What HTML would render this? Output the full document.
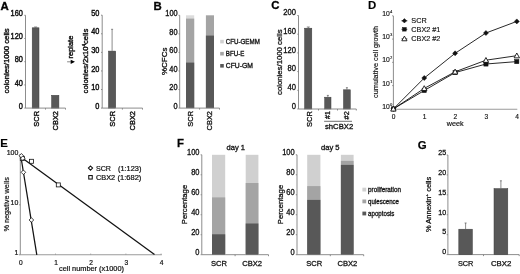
<!DOCTYPE html>
<html><head><meta charset="utf-8"><style>
html,body{margin:0;padding:0;background:#fff;overflow:hidden;}
svg{display:block;will-change:transform;filter:blur(0.4px);font-family:"Liberation Sans", sans-serif;}
text{stroke:#111;stroke-width:0.38px;}
.pA text{stroke-width:0.38px;} .pB text{stroke-width:0.3px;} .pC text{stroke-width:0.3px;} .pD text{stroke-width:0.15px;} .pE text{stroke-width:0.2px;} .pF text{stroke-width:0.28px;} .pG text{stroke-width:0.25px;}
</style></head><body>
<svg width="520" height="274" viewBox="0 0 520 274">
<rect width="520" height="274" fill="#fff"/>
<g class="pA">
<text x="0.60" y="9.60" font-size="11.4" font-weight="bold" fill="#000">A</text>
<line x1="25.50" y1="15.30" x2="25.50" y2="108.10" stroke="#808080" stroke-width="0.9"/>
<line x1="24.30" y1="108.10" x2="25.50" y2="108.10" stroke="#808080" stroke-width="0.9"/>
<text transform="translate(22.90,108.70) scale(1,1.12)" x="0" y="0" font-size="7.4" text-anchor="end" fill="#111">0</text>
<line x1="24.30" y1="84.90" x2="25.50" y2="84.90" stroke="#808080" stroke-width="0.9"/>
<text transform="translate(22.90,85.50) scale(1,1.12)" x="0" y="0" font-size="7.4" text-anchor="end" fill="#111">40</text>
<line x1="24.30" y1="61.70" x2="25.50" y2="61.70" stroke="#808080" stroke-width="0.9"/>
<text transform="translate(22.90,62.30) scale(1,1.12)" x="0" y="0" font-size="7.4" text-anchor="end" fill="#111">80</text>
<line x1="24.30" y1="38.50" x2="25.50" y2="38.50" stroke="#808080" stroke-width="0.9"/>
<text transform="translate(22.90,39.10) scale(1,1.12)" x="0" y="0" font-size="7.4" text-anchor="end" fill="#111">120</text>
<line x1="24.30" y1="15.30" x2="25.50" y2="15.30" stroke="#808080" stroke-width="0.9"/>
<text transform="translate(22.90,15.90) scale(1,1.12)" x="0" y="0" font-size="7.4" text-anchor="end" fill="#111">160</text>
<rect x="32.20" y="27.80" width="6.80" height="80.30" fill="#585858" stroke="#3c3c3c" stroke-width="0.5"/>
<line x1="35.60" y1="27.60" x2="35.60" y2="27.00" stroke="#5a5a5a" stroke-width="0.7"/>
<line x1="34.10" y1="27.00" x2="37.10" y2="27.00" stroke="#5a5a5a" stroke-width="0.7"/>
<rect x="51.60" y="95.30" width="7.30" height="12.80" fill="#585858" stroke="#3c3c3c" stroke-width="0.5"/>
<line x1="25.50" y1="108.10" x2="65.50" y2="108.10" stroke="#808080" stroke-width="0.9"/>
<line x1="45.50" y1="108.10" x2="45.50" y2="109.60" stroke="#808080" stroke-width="0.9"/>
<line x1="65.50" y1="108.10" x2="65.50" y2="109.60" stroke="#808080" stroke-width="0.9"/>
<text transform="translate(39.00,126.70) rotate(-90)" x="0" y="0" font-size="7.4" fill="#111" textLength="15.70" lengthAdjust="spacingAndGlyphs">SCR</text>
<text transform="translate(58.10,130.40) rotate(-90)" x="0" y="0" font-size="7.4" fill="#111" textLength="19.40" lengthAdjust="spacingAndGlyphs">CBX2</text>
<text transform="translate(8.70,93.50) rotate(-90)" x="0" y="0" font-size="7.8" fill="#111" textLength="65.20" lengthAdjust="spacingAndGlyphs">colonies/1000 cells</text>
<line x1="102.20" y1="15.20" x2="102.20" y2="108.10" stroke="#808080" stroke-width="0.9"/>
<line x1="101.00" y1="108.10" x2="102.20" y2="108.10" stroke="#808080" stroke-width="0.9"/>
<text transform="translate(99.40,108.70) scale(1,1.12)" x="0" y="0" font-size="7.4" text-anchor="end" fill="#111">0</text>
<line x1="101.00" y1="89.52" x2="102.20" y2="89.52" stroke="#808080" stroke-width="0.9"/>
<text transform="translate(99.40,90.12) scale(1,1.12)" x="0" y="0" font-size="7.4" text-anchor="end" fill="#111">10</text>
<line x1="101.00" y1="70.94" x2="102.20" y2="70.94" stroke="#808080" stroke-width="0.9"/>
<text transform="translate(99.40,71.54) scale(1,1.12)" x="0" y="0" font-size="7.4" text-anchor="end" fill="#111">20</text>
<line x1="101.00" y1="52.36" x2="102.20" y2="52.36" stroke="#808080" stroke-width="0.9"/>
<text transform="translate(99.40,52.96) scale(1,1.12)" x="0" y="0" font-size="7.4" text-anchor="end" fill="#111">30</text>
<line x1="101.00" y1="33.78" x2="102.20" y2="33.78" stroke="#808080" stroke-width="0.9"/>
<text transform="translate(99.40,34.38) scale(1,1.12)" x="0" y="0" font-size="7.4" text-anchor="end" fill="#111">40</text>
<line x1="101.00" y1="15.20" x2="102.20" y2="15.20" stroke="#808080" stroke-width="0.9"/>
<text transform="translate(99.40,15.80) scale(1,1.12)" x="0" y="0" font-size="7.4" text-anchor="end" fill="#111">50</text>
<rect x="108.50" y="51.10" width="7.20" height="57.00" fill="#585858" stroke="#3c3c3c" stroke-width="0.5"/>
<line x1="112.10" y1="50.90" x2="112.10" y2="29.30" stroke="#5a5a5a" stroke-width="0.7"/>
<line x1="111.10" y1="29.30" x2="113.10" y2="29.30" stroke="#5a5a5a" stroke-width="0.7"/>
<line x1="102.20" y1="108.10" x2="142.50" y2="108.10" stroke="#808080" stroke-width="0.9"/>
<line x1="122.40" y1="108.10" x2="122.40" y2="109.60" stroke="#808080" stroke-width="0.9"/>
<line x1="142.50" y1="108.10" x2="142.50" y2="109.60" stroke="#808080" stroke-width="0.9"/>
<text transform="translate(114.80,126.70) rotate(-90)" x="0" y="0" font-size="7.4" fill="#111" textLength="15.70" lengthAdjust="spacingAndGlyphs">SCR</text>
<text transform="translate(134.80,130.40) rotate(-90)" x="0" y="0" font-size="7.4" fill="#111" textLength="19.40" lengthAdjust="spacingAndGlyphs">CBX2</text>
<text transform="translate(88.4,93.4) rotate(-90)" x="0" y="0" font-size="7.8" fill="#111" textLength="64.8" lengthAdjust="spacingAndGlyphs">colonies/2x10<tspan font-size="4.6" dy="-2.8">4</tspan><tspan dy="2.8">cells</tspan></text>
<text transform="translate(73.30,58.50) rotate(-90)" x="0" y="0" font-size="7.0" fill="#111" textLength="22.80" lengthAdjust="spacingAndGlyphs">replate</text>
<line x1="67.10" y1="61.80" x2="71.20" y2="61.80" stroke="#555" stroke-width="0.7"/>
<path d="M70.7 59.8 L75 61.85 L70.7 64 Z" fill="#000"/>
</g>
<g class="pB">
<text x="153.60" y="9.60" font-size="11.4" font-weight="bold" fill="#000">B</text>
<line x1="179.70" y1="15.30" x2="179.70" y2="108.10" stroke="#808080" stroke-width="0.9"/>
<line x1="178.50" y1="108.10" x2="179.70" y2="108.10" stroke="#808080" stroke-width="0.9"/>
<text transform="translate(177.60,108.80) scale(1,1.12)" x="0" y="0" font-size="7.4" text-anchor="end" fill="#111">0</text>
<line x1="178.50" y1="89.54" x2="179.70" y2="89.54" stroke="#808080" stroke-width="0.9"/>
<text transform="translate(177.60,90.24) scale(1,1.12)" x="0" y="0" font-size="7.4" text-anchor="end" fill="#111">20</text>
<line x1="178.50" y1="70.98" x2="179.70" y2="70.98" stroke="#808080" stroke-width="0.9"/>
<text transform="translate(177.60,71.68) scale(1,1.12)" x="0" y="0" font-size="7.4" text-anchor="end" fill="#111">40</text>
<line x1="178.50" y1="52.42" x2="179.70" y2="52.42" stroke="#808080" stroke-width="0.9"/>
<text transform="translate(177.60,53.12) scale(1,1.12)" x="0" y="0" font-size="7.4" text-anchor="end" fill="#111">60</text>
<line x1="178.50" y1="33.86" x2="179.70" y2="33.86" stroke="#808080" stroke-width="0.9"/>
<text transform="translate(177.60,34.56) scale(1,1.12)" x="0" y="0" font-size="7.4" text-anchor="end" fill="#111">80</text>
<line x1="178.50" y1="15.30" x2="179.70" y2="15.30" stroke="#808080" stroke-width="0.9"/>
<text transform="translate(177.60,16.00) scale(1,1.12)" x="0" y="0" font-size="7.4" text-anchor="end" fill="#111">100</text>
<rect x="186.00" y="15.30" width="8.20" height="92.80" fill="#dcdcdc"/>
<rect x="186.00" y="18.60" width="8.20" height="89.50" fill="#a4a4a4"/>
<rect x="186.00" y="62.60" width="8.20" height="45.50" fill="#585858"/>
<rect x="205.90" y="15.30" width="8.10" height="92.80" fill="#a4a4a4"/>
<rect x="205.90" y="35.60" width="8.10" height="72.50" fill="#585858"/>
<line x1="179.70" y1="108.10" x2="219.50" y2="108.10" stroke="#808080" stroke-width="0.9"/>
<line x1="199.60" y1="108.10" x2="199.60" y2="109.60" stroke="#808080" stroke-width="0.9"/>
<line x1="219.50" y1="108.10" x2="219.50" y2="109.60" stroke="#808080" stroke-width="0.9"/>
<text transform="translate(192.70,126.70) rotate(-90)" x="0" y="0" font-size="7.4" fill="#111" textLength="15.70" lengthAdjust="spacingAndGlyphs">SCR</text>
<text transform="translate(212.00,130.40) rotate(-90)" x="0" y="0" font-size="7.4" fill="#111" textLength="19.40" lengthAdjust="spacingAndGlyphs">CBX2</text>
<text transform="translate(166.60,75.00) rotate(-90)" x="0" y="0" font-size="7.6" fill="#111" textLength="27.40" lengthAdjust="spacingAndGlyphs">%CFCs</text>
<rect x="220.20" y="39.80" width="3.60" height="3.60" fill="#d0d0d0"/>
<text x="225.80" y="43.95" font-size="6.4" font-weight="normal" fill="#111" textLength="34.00" lengthAdjust="spacingAndGlyphs">CFU-GEMM</text>
<rect x="220.20" y="51.90" width="3.60" height="3.60" fill="#a4a4a4"/>
<text x="225.80" y="56.05" font-size="6.4" font-weight="normal" fill="#111" textLength="18.60" lengthAdjust="spacingAndGlyphs">BFU-E</text>
<rect x="220.20" y="64.00" width="3.60" height="3.60" fill="#585858"/>
<text x="225.80" y="68.15" font-size="6.4" font-weight="normal" fill="#111" textLength="27.20" lengthAdjust="spacingAndGlyphs">CFU-GM</text>
</g>
<g class="pC">
<text x="271.30" y="9.40" font-size="11.4" font-weight="bold" fill="#000">C</text>
<line x1="298.50" y1="15.50" x2="298.50" y2="109.00" stroke="#808080" stroke-width="0.9"/>
<line x1="297.30" y1="109.00" x2="298.50" y2="109.00" stroke="#808080" stroke-width="0.9"/>
<text transform="translate(296.00,108.70) scale(1,1.12)" x="0" y="0" font-size="7.6" text-anchor="end" fill="#111">0</text>
<line x1="297.30" y1="90.30" x2="298.50" y2="90.30" stroke="#808080" stroke-width="0.9"/>
<text transform="translate(296.00,90.00) scale(1,1.12)" x="0" y="0" font-size="7.6" text-anchor="end" fill="#111">40</text>
<line x1="297.30" y1="71.60" x2="298.50" y2="71.60" stroke="#808080" stroke-width="0.9"/>
<text transform="translate(296.00,71.30) scale(1,1.12)" x="0" y="0" font-size="7.6" text-anchor="end" fill="#111">80</text>
<line x1="297.30" y1="52.90" x2="298.50" y2="52.90" stroke="#808080" stroke-width="0.9"/>
<text transform="translate(296.00,52.60) scale(1,1.12)" x="0" y="0" font-size="7.6" text-anchor="end" fill="#111">120</text>
<line x1="297.30" y1="34.20" x2="298.50" y2="34.20" stroke="#808080" stroke-width="0.9"/>
<text transform="translate(296.00,33.90) scale(1,1.12)" x="0" y="0" font-size="7.6" text-anchor="end" fill="#111">160</text>
<line x1="297.30" y1="15.50" x2="298.50" y2="15.50" stroke="#808080" stroke-width="0.9"/>
<text transform="translate(296.00,15.20) scale(1,1.12)" x="0" y="0" font-size="7.6" text-anchor="end" fill="#111">200</text>
<rect x="304.60" y="28.20" width="7.20" height="80.80" fill="#585858" stroke="#3c3c3c" stroke-width="0.5"/>
<line x1="308.30" y1="28.00" x2="308.30" y2="27.00" stroke="#5a5a5a" stroke-width="0.7"/>
<line x1="306.80" y1="27.00" x2="309.80" y2="27.00" stroke="#5a5a5a" stroke-width="0.7"/>
<rect x="324.70" y="97.20" width="6.30" height="11.80" fill="#585858" stroke="#3c3c3c" stroke-width="0.5"/>
<line x1="327.85" y1="97.00" x2="327.85" y2="95.40" stroke="#5a5a5a" stroke-width="0.7"/>
<line x1="326.85" y1="95.40" x2="328.85" y2="95.40" stroke="#5a5a5a" stroke-width="0.7"/>
<rect x="343.50" y="89.80" width="6.80" height="19.20" fill="#585858" stroke="#3c3c3c" stroke-width="0.5"/>
<line x1="346.90" y1="89.60" x2="346.90" y2="87.70" stroke="#5a5a5a" stroke-width="0.7"/>
<line x1="345.90" y1="87.70" x2="347.90" y2="87.70" stroke="#5a5a5a" stroke-width="0.7"/>
<line x1="298.50" y1="109.00" x2="356.30" y2="109.00" stroke="#808080" stroke-width="0.9"/>
<line x1="318.50" y1="109.00" x2="318.50" y2="110.50" stroke="#808080" stroke-width="0.9"/>
<line x1="337.50" y1="109.00" x2="337.50" y2="110.50" stroke="#808080" stroke-width="0.9"/>
<line x1="356.30" y1="109.00" x2="356.30" y2="110.50" stroke="#808080" stroke-width="0.9"/>
<text transform="translate(311.80,126.90) rotate(-90)" x="0" y="0" font-size="7.4" fill="#111" textLength="15.70" lengthAdjust="spacingAndGlyphs">SCR</text>
<text transform="translate(330.40,119.00) rotate(-90)" x="0" y="0" font-size="7.6" fill="#111" textLength="7.80" lengthAdjust="spacingAndGlyphs">#1</text>
<text transform="translate(349.40,119.40) rotate(-90)" x="0" y="0" font-size="7.6" fill="#111" textLength="8.20" lengthAdjust="spacingAndGlyphs">#2</text>
<line x1="324.10" y1="121.30" x2="352.00" y2="121.30" stroke="#333" stroke-width="0.7"/>
<text x="325.00" y="129.20" font-size="7.2" font-weight="normal" fill="#111" textLength="28.20" lengthAdjust="spacingAndGlyphs">shCBX2</text>
<text transform="translate(281.70,95.00) rotate(-90)" x="0" y="0" font-size="7.8" fill="#111" textLength="65.60" lengthAdjust="spacingAndGlyphs">colonies/1000 cells</text>
</g>
<g class="pD">
<text x="368.00" y="9.30" font-size="11.4" font-weight="bold" fill="#000">D</text>
<line x1="393.40" y1="16.00" x2="393.40" y2="108.90" stroke="#808080" stroke-width="0.9"/>
<line x1="392.20" y1="108.90" x2="393.40" y2="108.90" stroke="#808080" stroke-width="0.9"/>
<text x="389.90" y="109.00" font-size="6.8" text-anchor="end" fill="#111">10</text>
<text x="390.30" y="106.00" font-size="3.6" fill="#111">0</text>
<line x1="392.20" y1="85.62" x2="393.40" y2="85.62" stroke="#808080" stroke-width="0.9"/>
<text x="389.90" y="85.72" font-size="6.8" text-anchor="end" fill="#111">10</text>
<text x="390.30" y="82.72" font-size="3.6" fill="#111">1</text>
<line x1="392.20" y1="62.35" x2="393.40" y2="62.35" stroke="#808080" stroke-width="0.9"/>
<text x="389.90" y="62.45" font-size="6.8" text-anchor="end" fill="#111">10</text>
<text x="390.30" y="59.45" font-size="3.6" fill="#111">2</text>
<line x1="392.20" y1="39.08" x2="393.40" y2="39.08" stroke="#808080" stroke-width="0.9"/>
<text x="389.90" y="39.18" font-size="6.8" text-anchor="end" fill="#111">10</text>
<text x="390.30" y="36.18" font-size="3.6" fill="#111">3</text>
<line x1="392.20" y1="15.80" x2="393.40" y2="15.80" stroke="#808080" stroke-width="0.9"/>
<text x="389.90" y="15.90" font-size="6.8" text-anchor="end" fill="#111">10</text>
<text x="390.30" y="12.90" font-size="3.6" fill="#111">4</text>
<line x1="393.40" y1="109.20" x2="517.30" y2="109.20" stroke="#9a9a9a" stroke-width="1.1"/>
<text x="393.70" y="118.80" font-size="6.6" text-anchor="middle" fill="#111">0</text>
<text x="424.55" y="118.80" font-size="6.6" text-anchor="middle" fill="#111">1</text>
<text x="455.40" y="118.80" font-size="6.6" text-anchor="middle" fill="#111">2</text>
<text x="486.25" y="118.80" font-size="6.6" text-anchor="middle" fill="#111">3</text>
<text x="517.10" y="118.80" font-size="6.6" text-anchor="middle" fill="#111">4</text>
<text x="446.80" y="125.80" font-size="6.4" font-weight="normal" fill="#111" textLength="16.70" lengthAdjust="spacingAndGlyphs">week</text>
<text transform="translate(378.40,97.90) rotate(-90)" x="0" y="0" font-size="7.0" fill="#111" textLength="71.90" lengthAdjust="spacingAndGlyphs">cumulative cell growth</text>
<polyline points="393.40,108.90 424.25,78.00 455.10,53.30 485.95,33.00 516.80,21.40" fill="none" stroke="#111" stroke-width="0.9"/>
<polyline points="393.40,108.90 424.25,90.50 455.10,72.60 485.95,64.00 516.80,61.60" fill="none" stroke="#111" stroke-width="0.9"/>
<polyline points="393.40,108.90 424.25,88.40 455.10,71.80 485.95,60.20 516.80,55.70" fill="none" stroke="#111" stroke-width="0.9"/>
<path d="M393.40 106.40 L395.90 108.90 L393.40 111.40 L390.90 108.90 Z" fill="#111" stroke="#111" stroke-width="0.5"/>
<path d="M424.25 75.50 L426.75 78.00 L424.25 80.50 L421.75 78.00 Z" fill="#111" stroke="#111" stroke-width="0.5"/>
<path d="M455.10 50.80 L457.60 53.30 L455.10 55.80 L452.60 53.30 Z" fill="#111" stroke="#111" stroke-width="0.5"/>
<path d="M485.95 30.50 L488.45 33.00 L485.95 35.50 L483.45 33.00 Z" fill="#111" stroke="#111" stroke-width="0.5"/>
<path d="M516.80 18.90 L519.30 21.40 L516.80 23.90 L514.30 21.40 Z" fill="#111" stroke="#111" stroke-width="0.5"/>
<rect x="391.30" y="106.80" width="4.20" height="4.20" fill="#111" stroke="#111" stroke-width="0.5"/>
<rect x="422.15" y="88.40" width="4.20" height="4.20" fill="#111" stroke="#111" stroke-width="0.5"/>
<rect x="453.00" y="70.50" width="4.20" height="4.20" fill="#111" stroke="#111" stroke-width="0.5"/>
<rect x="483.85" y="61.90" width="4.20" height="4.20" fill="#111" stroke="#111" stroke-width="0.5"/>
<rect x="514.70" y="59.50" width="4.20" height="4.20" fill="#111" stroke="#111" stroke-width="0.5"/>
<path d="M393.40 106.20 L396.10 111.06 L390.70 111.06 Z" fill="#fff" stroke="#111" stroke-width="0.9"/>
<path d="M424.25 85.70 L426.95 90.56 L421.55 90.56 Z" fill="#fff" stroke="#111" stroke-width="0.9"/>
<path d="M455.10 69.10 L457.80 73.96 L452.40 73.96 Z" fill="#fff" stroke="#111" stroke-width="0.9"/>
<path d="M485.95 57.50 L488.65 62.36 L483.25 62.36 Z" fill="#fff" stroke="#111" stroke-width="0.9"/>
<path d="M516.80 53.00 L519.50 57.86 L514.10 57.86 Z" fill="#fff" stroke="#111" stroke-width="0.9"/>
<line x1="401.50" y1="20.80" x2="407.30" y2="20.80" stroke="#111" stroke-width="0.8"/>
<path d="M404.40 18.60 L406.60 20.80 L404.40 23.00 L402.20 20.80 Z" fill="#111" stroke="#111" stroke-width="0.5"/>
<line x1="401.50" y1="29.30" x2="407.30" y2="29.30" stroke="#111" stroke-width="0.8"/>
<rect x="402.60" y="27.50" width="3.60" height="3.60" fill="#111" stroke="#111" stroke-width="0.5"/>
<line x1="401.50" y1="38.90" x2="407.30" y2="38.90" stroke="#111" stroke-width="0.8"/>
<path d="M404.40 36.10 L407.00 40.78 L401.80 40.78 Z" fill="#fff" stroke="#111" stroke-width="0.9"/>
<text x="411.30" y="23.10" font-size="7.2" font-weight="normal" fill="#111" textLength="15.40" lengthAdjust="spacingAndGlyphs">SCR</text>
<text x="411.30" y="31.60" font-size="7.2" font-weight="normal" fill="#111" textLength="29.10" lengthAdjust="spacingAndGlyphs">CBX2 #1</text>
<text x="411.30" y="41.20" font-size="7.2" font-weight="normal" fill="#111" textLength="29.10" lengthAdjust="spacingAndGlyphs">CBX2 #2</text>
</g>
<g class="pE">
<text x="0.30" y="146.60" font-size="11.4" font-weight="bold" fill="#000">E</text>
<line x1="20.30" y1="155.00" x2="20.30" y2="254.80" stroke="#808080" stroke-width="0.9"/>
<line x1="19.10" y1="254.80" x2="20.30" y2="254.80" stroke="#808080" stroke-width="0.9"/>
<text transform="translate(18.30,254.70) scale(1,1.12)" x="0" y="0" font-size="7.0" text-anchor="end" fill="#111">1</text>
<line x1="19.10" y1="204.80" x2="20.30" y2="204.80" stroke="#808080" stroke-width="0.9"/>
<text transform="translate(18.30,204.70) scale(1,1.12)" x="0" y="0" font-size="7.0" text-anchor="end" fill="#111">10</text>
<line x1="19.10" y1="154.80" x2="20.30" y2="154.80" stroke="#808080" stroke-width="0.9"/>
<text transform="translate(18.30,154.70) scale(1,1.12)" x="0" y="0" font-size="7.0" text-anchor="end" fill="#111">100</text>
<line x1="20.30" y1="254.80" x2="161.80" y2="254.80" stroke="#9a9a9a" stroke-width="1.1"/>
<line x1="20.30" y1="254.80" x2="20.30" y2="253.60" stroke="#9a9a9a" stroke-width="0.9"/>
<text x="20.80" y="264.70" font-size="6.6" text-anchor="middle" fill="#111">0</text>
<line x1="55.50" y1="254.80" x2="55.50" y2="253.60" stroke="#9a9a9a" stroke-width="0.9"/>
<text x="56.00" y="264.70" font-size="6.6" text-anchor="middle" fill="#111">1</text>
<line x1="90.70" y1="254.80" x2="90.70" y2="253.60" stroke="#9a9a9a" stroke-width="0.9"/>
<text x="91.20" y="264.70" font-size="6.6" text-anchor="middle" fill="#111">2</text>
<line x1="125.90" y1="254.80" x2="125.90" y2="253.60" stroke="#9a9a9a" stroke-width="0.9"/>
<text x="126.40" y="264.70" font-size="6.6" text-anchor="middle" fill="#111">3</text>
<line x1="161.10" y1="254.80" x2="161.10" y2="253.60" stroke="#9a9a9a" stroke-width="0.9"/>
<text x="161.60" y="264.70" font-size="6.6" text-anchor="middle" fill="#111">4</text>
<text x="59.00" y="270.60" font-size="6.8" font-weight="normal" fill="#111" textLength="65.00" lengthAdjust="spacingAndGlyphs">cell number (x1000)</text>
<text transform="translate(8.60,231.60) rotate(-90)" x="0" y="0" font-size="7.0" fill="#111" textLength="54.40" lengthAdjust="spacingAndGlyphs">% negative wells</text>
<line x1="20.8" y1="156" x2="36.8" y2="254.8" stroke="#111" stroke-width="1.25"/>
<line x1="21.5" y1="157.5" x2="154.5" y2="254.5" stroke="#111" stroke-width="1.25"/>
<rect x="20.30" y="156.50" width="4.00" height="4.00" fill="#fff" stroke="#111" stroke-width="0.8"/>
<rect x="29.50" y="159.30" width="4.00" height="4.00" fill="#fff" stroke="#111" stroke-width="0.8"/>
<rect x="56.30" y="182.90" width="4.00" height="4.00" fill="#fff" stroke="#111" stroke-width="0.8"/>
<path d="M21.40 153.50 L23.70 155.80 L21.40 158.10 L19.10 155.80 Z" fill="#fff" stroke="#111" stroke-width="0.8"/>
<path d="M22.80 155.90 L25.10 158.20 L22.80 160.50 L20.50 158.20 Z" fill="#fff" stroke="#111" stroke-width="0.8"/>
<path d="M23.40 170.00 L25.70 172.30 L23.40 174.60 L21.10 172.30 Z" fill="#fff" stroke="#111" stroke-width="0.8"/>
<path d="M31.40 217.70 L33.70 220.00 L31.40 222.30 L29.10 220.00 Z" fill="#fff" stroke="#111" stroke-width="0.8"/>
<path d="M90.50 166.00 L92.60 168.10 L90.50 170.20 L88.40 168.10 Z" fill="#fff" stroke="#111" stroke-width="1.05"/>
<rect x="88.75" y="175.55" width="3.50" height="3.50" fill="#fff" stroke="#111" stroke-width="1.05"/>
<text x="96.00" y="170.50" font-size="6.6" font-weight="normal" fill="#111" textLength="15.00" lengthAdjust="spacingAndGlyphs">SCR</text>
<text x="118.00" y="170.50" font-size="6.6" font-weight="normal" fill="#111" textLength="23.40" lengthAdjust="spacingAndGlyphs">(1:123)</text>
<text x="96.00" y="180.00" font-size="6.6" font-weight="normal" fill="#111" textLength="19.20" lengthAdjust="spacingAndGlyphs">CBX2</text>
<text x="117.50" y="180.00" font-size="6.6" font-weight="normal" fill="#111" textLength="23.90" lengthAdjust="spacingAndGlyphs">(1:682)</text>
</g>
<g class="pF">
<text x="176.90" y="147.00" font-size="11.4" font-weight="bold" fill="#000">F</text>
<line x1="201.80" y1="154.80" x2="201.80" y2="254.70" stroke="#808080" stroke-width="0.9"/>
<line x1="200.60" y1="254.70" x2="201.80" y2="254.70" stroke="#808080" stroke-width="0.9"/>
<text transform="translate(199.50,255.00) scale(1,1.12)" x="0" y="0" font-size="7.5" text-anchor="end" fill="#111">0</text>
<line x1="200.60" y1="234.72" x2="201.80" y2="234.72" stroke="#808080" stroke-width="0.9"/>
<text transform="translate(199.50,235.02) scale(1,1.12)" x="0" y="0" font-size="7.5" text-anchor="end" fill="#111">20</text>
<line x1="200.60" y1="214.74" x2="201.80" y2="214.74" stroke="#808080" stroke-width="0.9"/>
<text transform="translate(199.50,215.04) scale(1,1.12)" x="0" y="0" font-size="7.5" text-anchor="end" fill="#111">40</text>
<line x1="200.60" y1="194.76" x2="201.80" y2="194.76" stroke="#808080" stroke-width="0.9"/>
<text transform="translate(199.50,195.06) scale(1,1.12)" x="0" y="0" font-size="7.5" text-anchor="end" fill="#111">60</text>
<line x1="200.60" y1="174.78" x2="201.80" y2="174.78" stroke="#808080" stroke-width="0.9"/>
<text transform="translate(199.50,175.08) scale(1,1.12)" x="0" y="0" font-size="7.5" text-anchor="end" fill="#111">80</text>
<line x1="200.60" y1="154.80" x2="201.80" y2="154.80" stroke="#808080" stroke-width="0.9"/>
<text transform="translate(199.50,155.10) scale(1,1.12)" x="0" y="0" font-size="7.5" text-anchor="end" fill="#111">100</text>
<line x1="201.80" y1="254.70" x2="268.50" y2="254.70" stroke="#808080" stroke-width="0.9"/>
<line x1="235.10" y1="254.70" x2="235.10" y2="256.20" stroke="#808080" stroke-width="0.9"/>
<line x1="268.50" y1="254.70" x2="268.50" y2="256.20" stroke="#808080" stroke-width="0.9"/>
<rect x="212.00" y="154.80" width="13.20" height="99.90" fill="#d0d0d0"/>
<rect x="212.00" y="197.40" width="13.20" height="57.30" fill="#a4a4a4"/>
<rect x="212.00" y="234.30" width="13.20" height="20.40" fill="#585858"/>
<rect x="245.70" y="154.80" width="12.70" height="99.90" fill="#d0d0d0"/>
<rect x="245.70" y="183.00" width="12.70" height="71.70" fill="#a4a4a4"/>
<rect x="245.70" y="223.50" width="12.70" height="31.20" fill="#585858"/>
<text x="211.00" y="266.10" font-size="7.5" font-weight="normal" fill="#111" textLength="16.00" lengthAdjust="spacingAndGlyphs">SCR</text>
<text x="242.20" y="266.10" font-size="7.5" font-weight="normal" fill="#111" textLength="19.90" lengthAdjust="spacingAndGlyphs">CBX2</text>
<text x="226.50" y="149.60" font-size="6.8" font-weight="normal" fill="#111" textLength="18.50" lengthAdjust="spacingAndGlyphs">day 1</text>
<text transform="translate(187.40,224.20) rotate(-90)" x="0" y="0" font-size="7.8" fill="#111" textLength="39.40" lengthAdjust="spacingAndGlyphs">Percentage</text>
<line x1="297.00" y1="154.80" x2="297.00" y2="254.70" stroke="#808080" stroke-width="0.9"/>
<line x1="295.80" y1="254.70" x2="297.00" y2="254.70" stroke="#808080" stroke-width="0.9"/>
<text transform="translate(294.70,255.00) scale(1,1.12)" x="0" y="0" font-size="7.5" text-anchor="end" fill="#111">0</text>
<line x1="295.80" y1="234.72" x2="297.00" y2="234.72" stroke="#808080" stroke-width="0.9"/>
<text transform="translate(294.70,235.02) scale(1,1.12)" x="0" y="0" font-size="7.5" text-anchor="end" fill="#111">20</text>
<line x1="295.80" y1="214.74" x2="297.00" y2="214.74" stroke="#808080" stroke-width="0.9"/>
<text transform="translate(294.70,215.04) scale(1,1.12)" x="0" y="0" font-size="7.5" text-anchor="end" fill="#111">40</text>
<line x1="295.80" y1="194.76" x2="297.00" y2="194.76" stroke="#808080" stroke-width="0.9"/>
<text transform="translate(294.70,195.06) scale(1,1.12)" x="0" y="0" font-size="7.5" text-anchor="end" fill="#111">60</text>
<line x1="295.80" y1="174.78" x2="297.00" y2="174.78" stroke="#808080" stroke-width="0.9"/>
<text transform="translate(294.70,175.08) scale(1,1.12)" x="0" y="0" font-size="7.5" text-anchor="end" fill="#111">80</text>
<line x1="295.80" y1="154.80" x2="297.00" y2="154.80" stroke="#808080" stroke-width="0.9"/>
<text transform="translate(294.70,155.10) scale(1,1.12)" x="0" y="0" font-size="7.5" text-anchor="end" fill="#111">100</text>
<line x1="297.00" y1="254.70" x2="363.70" y2="254.70" stroke="#808080" stroke-width="0.9"/>
<line x1="330.30" y1="254.70" x2="330.30" y2="256.20" stroke="#808080" stroke-width="0.9"/>
<line x1="363.70" y1="254.70" x2="363.70" y2="256.20" stroke="#808080" stroke-width="0.9"/>
<rect x="307.20" y="154.80" width="13.20" height="99.90" fill="#d0d0d0"/>
<rect x="307.20" y="186.10" width="13.20" height="68.60" fill="#a4a4a4"/>
<rect x="307.20" y="199.90" width="13.20" height="54.80" fill="#585858"/>
<rect x="340.90" y="154.80" width="12.70" height="99.90" fill="#d0d0d0"/>
<rect x="340.90" y="160.90" width="12.70" height="93.80" fill="#a4a4a4"/>
<rect x="340.90" y="164.90" width="12.70" height="89.80" fill="#585858"/>
<text x="306.20" y="266.10" font-size="7.5" font-weight="normal" fill="#111" textLength="16.00" lengthAdjust="spacingAndGlyphs">SCR</text>
<text x="337.40" y="266.10" font-size="7.5" font-weight="normal" fill="#111" textLength="19.90" lengthAdjust="spacingAndGlyphs">CBX2</text>
<text x="321.00" y="149.60" font-size="6.8" font-weight="normal" fill="#111" textLength="18.60" lengthAdjust="spacingAndGlyphs">day 5</text>
<text transform="translate(282.60,224.20) rotate(-90)" x="0" y="0" font-size="7.8" fill="#111" textLength="39.40" lengthAdjust="spacingAndGlyphs">Percentage</text>
<rect x="362.40" y="187.70" width="3.80" height="3.80" fill="#d0d0d0"/>
<text x="368.10" y="191.90" font-size="6.3" font-weight="normal" fill="#111" textLength="32.80" lengthAdjust="spacingAndGlyphs">proliferation</text>
<rect x="362.40" y="199.50" width="3.80" height="3.80" fill="#a4a4a4"/>
<text x="368.10" y="203.70" font-size="6.3" font-weight="normal" fill="#111" textLength="30.90" lengthAdjust="spacingAndGlyphs">quiescence</text>
<rect x="362.40" y="211.60" width="3.80" height="3.80" fill="#585858"/>
<text x="368.10" y="215.80" font-size="6.3" font-weight="normal" fill="#111" textLength="26.30" lengthAdjust="spacingAndGlyphs">apoptosis</text>
</g>
<g class="pG">
<text x="417.70" y="148.50" font-size="11.4" font-weight="bold" fill="#000">G</text>
<line x1="447.90" y1="155.00" x2="447.90" y2="254.60" stroke="#808080" stroke-width="0.9"/>
<line x1="446.70" y1="254.60" x2="447.90" y2="254.60" stroke="#808080" stroke-width="0.9"/>
<text transform="translate(446.10,254.40) scale(1,1.12)" x="0" y="0" font-size="7.1" text-anchor="end" fill="#111">0</text>
<line x1="446.70" y1="234.68" x2="447.90" y2="234.68" stroke="#808080" stroke-width="0.9"/>
<text transform="translate(446.10,234.48) scale(1,1.12)" x="0" y="0" font-size="7.1" text-anchor="end" fill="#111">5</text>
<line x1="446.70" y1="214.76" x2="447.90" y2="214.76" stroke="#808080" stroke-width="0.9"/>
<text transform="translate(446.10,214.56) scale(1,1.12)" x="0" y="0" font-size="7.1" text-anchor="end" fill="#111">10</text>
<line x1="446.70" y1="194.84" x2="447.90" y2="194.84" stroke="#808080" stroke-width="0.9"/>
<text transform="translate(446.10,194.64) scale(1,1.12)" x="0" y="0" font-size="7.1" text-anchor="end" fill="#111">15</text>
<line x1="446.70" y1="174.92" x2="447.90" y2="174.92" stroke="#808080" stroke-width="0.9"/>
<text transform="translate(446.10,174.72) scale(1,1.12)" x="0" y="0" font-size="7.1" text-anchor="end" fill="#111">20</text>
<line x1="446.70" y1="155.00" x2="447.90" y2="155.00" stroke="#808080" stroke-width="0.9"/>
<text transform="translate(446.10,154.80) scale(1,1.12)" x="0" y="0" font-size="7.1" text-anchor="end" fill="#111">25</text>
<line x1="447.90" y1="254.60" x2="519.20" y2="254.60" stroke="#808080" stroke-width="0.9"/>
<line x1="483.50" y1="254.60" x2="483.50" y2="256.10" stroke="#808080" stroke-width="0.9"/>
<line x1="519.20" y1="254.60" x2="519.20" y2="256.10" stroke="#808080" stroke-width="0.9"/>
<rect x="458.80" y="229.20" width="13.60" height="25.40" fill="#585858" stroke="#3c3c3c" stroke-width="0.5"/>
<line x1="465.60" y1="229.00" x2="465.60" y2="223.00" stroke="#5a5a5a" stroke-width="0.7"/>
<line x1="464.60" y1="223.00" x2="466.60" y2="223.00" stroke="#5a5a5a" stroke-width="0.7"/>
<rect x="494.00" y="188.60" width="13.80" height="66.00" fill="#585858" stroke="#3c3c3c" stroke-width="0.5"/>
<line x1="500.90" y1="188.40" x2="500.90" y2="180.80" stroke="#5a5a5a" stroke-width="0.7"/>
<line x1="499.90" y1="180.80" x2="501.90" y2="180.80" stroke="#5a5a5a" stroke-width="0.7"/>
<text x="457.90" y="266.00" font-size="6.8" font-weight="normal" fill="#111" textLength="15.50" lengthAdjust="spacingAndGlyphs">SCR</text>
<text x="490.90" y="266.00" font-size="6.8" font-weight="normal" fill="#111" textLength="20.50" lengthAdjust="spacingAndGlyphs">CBX2</text>
<text transform="translate(431.0,232.0) rotate(-90)" x="0" y="0" font-size="7.0" fill="#111" textLength="55.2" lengthAdjust="spacingAndGlyphs">% Annexin<tspan font-size="4.4" dy="-2.8">+</tspan><tspan dy="2.8"> cells</tspan></text>
</g>
</svg>
</body></html>
